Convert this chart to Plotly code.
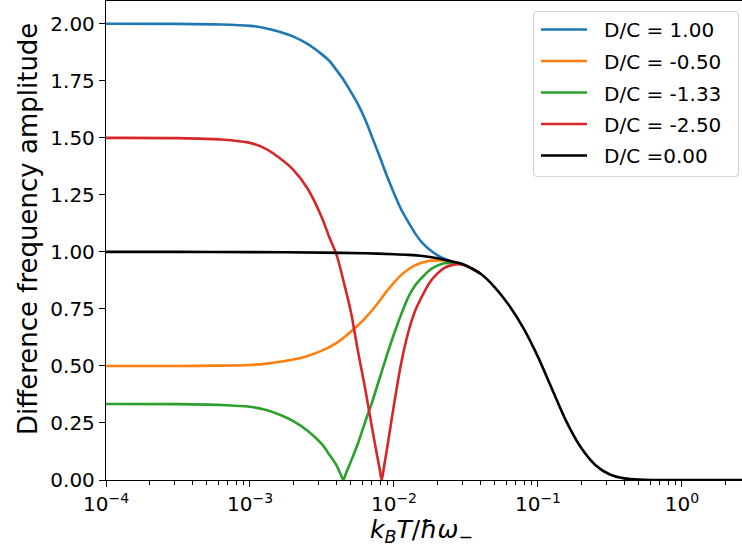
import plotly.graph_objects as go

# ---- data ----
T_black = [1.0e-4, 3.16e-4, 1.0e-3, 3.16e-3, 6.31e-3, 1.0e-2, 1.26e-2, 1.58e-2, 2.0e-2,
           2.51e-2, 2.82e-2, 3.16e-2, 3.98e-2, 5.01e-2, 6.31e-2, 7.94e-2, 0.1, 0.126,
           0.158, 0.2, 0.251, 0.316, 0.398, 0.501, 0.631, 1.0, 2.63]
A_black = [1.0, 1.0, 0.999, 0.997, 0.994, 0.99, 0.987, 0.982, 0.972,
           0.958, 0.951, 0.94, 0.905, 0.845, 0.765, 0.665, 0.54, 0.395,
           0.255, 0.14, 0.065, 0.024, 0.007, 0.0015, 0.0, 0.0, 0.0]

T_blue = [1.0e-4, 3.16e-4, 6.31e-4, 1.0e-3, 1.26e-3, 1.58e-3, 2.0e-3, 2.51e-3, 3.16e-3,
          3.55e-3, 3.98e-3, 4.47e-3, 5.01e-3, 5.62e-3, 6.31e-3, 7.08e-3, 7.94e-3,
          8.91e-3, 1.0e-2, 1.12e-2, 1.26e-2, 1.41e-2, 1.58e-2, 1.78e-2, 2.0e-2,
          2.24e-2, 2.51e-2, 2.82e-2, 3.16e-2, 3.98e-2]
A_blue = [2.0, 1.9995, 1.997, 1.991, 1.982, 1.966, 1.944, 1.912, 1.866,
          1.838, 1.798, 1.754, 1.703, 1.648, 1.58, 1.50, 1.419,
          1.335, 1.257, 1.187, 1.13, 1.079, 1.038, 1.008, 0.986,
          0.970, 0.959, 0.951, 0.94, 0.905]

T_orange = [1.0e-4, 3.16e-4, 6.31e-4, 1.0e-3, 1.26e-3, 1.58e-3, 2.0e-3, 2.51e-3, 3.16e-3,
            3.98e-3, 5.01e-3, 6.31e-3, 7.94e-3, 8.91e-3, 1.0e-2, 1.12e-2, 1.26e-2,
            1.41e-2, 1.58e-2, 1.78e-2, 2.0e-2, 2.24e-2, 2.51e-2, 2.82e-2, 3.16e-2, 3.98e-2]
A_orange = [0.5, 0.5, 0.5015, 0.5045, 0.509, 0.517, 0.528, 0.544, 0.567,
            0.60, 0.65, 0.71, 0.785, 0.828, 0.865, 0.898, 0.924,
            0.942, 0.954, 0.961, 0.963, 0.962, 0.957, 0.951, 0.94, 0.905]

T_green = [1.0e-4, 3.16e-4, 6.31e-4, 1.0e-3, 1.26e-3, 1.58e-3, 2.0e-3, 2.51e-3, 3.16e-3,
           3.55e-3, 3.98e-3, 4.27e-3, 4.45e-3, 4.62e-3, 5.01e-3, 5.62e-3, 6.31e-3,
           7.08e-3, 7.94e-3, 8.91e-3, 1.0e-2, 1.12e-2, 1.26e-2, 1.41e-2, 1.58e-2,
           1.78e-2, 2.0e-2, 2.24e-2, 2.51e-2, 2.82e-2, 3.16e-2, 3.98e-2]
A_green = [0.333, 0.3327, 0.329, 0.321, 0.309, 0.288, 0.258, 0.216, 0.157,
           0.112, 0.065, 0.024, 0.0, 0.026, 0.08, 0.16, 0.255,
           0.345, 0.445, 0.545, 0.64, 0.725, 0.803, 0.855, 0.89,
           0.922, 0.94, 0.95, 0.953, 0.95, 0.94, 0.905]

T_red = [1.0e-4, 3.16e-4, 6.31e-4, 1.0e-3, 1.26e-3, 1.58e-3, 2.0e-3, 2.51e-3, 3.16e-3,
         3.55e-3, 3.98e-3, 4.47e-3, 5.01e-3, 5.62e-3, 6.31e-3, 7.08e-3, 7.94e-3,
         8.22e-3, 8.51e-3, 8.91e-3, 1.0e-2, 1.12e-2, 1.26e-2, 1.41e-2, 1.58e-2,
         1.78e-2, 2.0e-2, 2.24e-2, 2.51e-2, 2.82e-2, 3.16e-2, 3.98e-2]
A_red = [1.5, 1.499, 1.493, 1.478, 1.455, 1.415, 1.36, 1.278, 1.15,
         1.065, 0.99, 0.87, 0.74, 0.565, 0.40, 0.22, 0.05,
         0.0, 0.055, 0.13, 0.33, 0.51, 0.65, 0.745, 0.81,
         0.868, 0.905, 0.93, 0.942, 0.946, 0.94, 0.905]

labels = ["D/C = 1.00", "D/C = -0.50", "D/C = -1.33", "D/C = -2.50", "D/C =0.00"]
colors = ["#1f77b4", "#ff7f0e", "#2ca02c", "#d62728", "#000000"]
xs_all = [T_blue, T_orange, T_green, T_red, T_black]
ys_all = [A_blue, A_orange, A_green, A_red, A_black]

x_tickvals = [1e-4, 1e-3, 1e-2, 1e-1, 1e0]
x_ticktext = ["10<sup>−4</sup>", "10<sup>−3</sup>", "10<sup>−2</sup>",
              "10<sup>−1</sup>", "10<sup>0</sup>"]
y_tickvals = [0, 0.25, 0.5, 0.75, 1.0, 1.25, 1.5, 1.75, 2.0]
x_title = "<i>k</i><sub><i>B</i></sub><i>T</i>/<i>ħω</i><sub>−</sub>"
y_title = "Difference frequency amplitude"

FONT = "DejaVu Sans"
W, H = 742, 549
ML, MR, MT, MB = 106, 0, 1, 69
PW, PH = W - ML - MR, H - MT - MB


def px2x(px):
    return (px - ML) / PW


def py2y(py):
    return (H - MB - py) / PH


fig = go.Figure()
for name, xs, ys, col in zip(labels, xs_all, ys_all, colors):
    fig.add_trace(go.Scatter(x=xs, y=ys, mode="lines", name=name,
                             line=dict(color=col, width=2.6, shape="spline",
                                       smoothing=0.8)))

# legend drawn by hand (matplotlib look)
L, R, T, B, rad = 533.5, 738.5, 11.5, 176.5, 4
path = (f"M {px2x(L + rad)},{py2y(T)} L {px2x(R - rad)},{py2y(T)} "
        f"Q {px2x(R)},{py2y(T)} {px2x(R)},{py2y(T + rad)} "
        f"L {px2x(R)},{py2y(B - rad)} Q {px2x(R)},{py2y(B)} {px2x(R - rad)},{py2y(B)} "
        f"L {px2x(L + rad)},{py2y(B)} Q {px2x(L)},{py2y(B)} {px2x(L)},{py2y(B - rad)} "
        f"L {px2x(L)},{py2y(T + rad)} Q {px2x(L)},{py2y(T)} {px2x(L + rad)},{py2y(T)} Z")
shapes = [dict(type="path", path=path, xref="paper", yref="paper",
               fillcolor="rgba(255,255,255,0.85)", line=dict(color="#d5d5d5", width=1.2),
               layer="above")]
annotations = []
row_y = [29.5, 61, 92.5, 124, 155.5]
for name, col, ry in zip(labels, colors, row_y):
    shapes.append(dict(type="line", xref="paper", yref="paper",
                       x0=px2x(541), x1=px2x(587), y0=py2y(ry), y1=py2y(ry),
                       line=dict(color=col, width=2.6), layer="above"))
    annotations.append(dict(text=name, xref="paper", yref="paper",
                            x=px2x(602), y=py2y(ry + 1), xanchor="left", yanchor="middle",
                            showarrow=False, font=dict(family=FONT, size=20, color="black")))

# axis titles
annotations.append(dict(text=x_title, xref="paper", yref="paper",
                        x=px2x(421), y=py2y(531), xanchor="center", yanchor="middle",
                        showarrow=False, font=dict(family=FONT, size=25, color="black")))
annotations.append(dict(text=y_title, xref="paper", yref="paper", textangle=-90,
                        x=px2x(28), y=py2y(229), xanchor="center", yanchor="middle",
                        showarrow=False, font=dict(family=FONT, size=26, color="black")))

fig.update_layout(
    width=W, height=H,
    margin=dict(l=ML, r=MR, t=MT, b=MB),
    paper_bgcolor="white", plot_bgcolor="white",
    font=dict(family=FONT, size=20, color="black"),
    showlegend=False,
    shapes=shapes, annotations=annotations,
    xaxis=dict(type="log", range=[-4, 0.417], automargin=False,
               tickvals=x_tickvals, ticktext=x_ticktext,
               ticks="outside", ticklen=6, tickwidth=1.2, tickcolor="black",
               showline=True, linecolor="black", linewidth=1.3, mirror=True,
               showgrid=False, zeroline=False,
               minor=dict(ticks="outside", ticklen=3.5, tickwidth=1, tickcolor="black",
                          dtick="D1", showgrid=False)),
    yaxis=dict(range=[0, 2.1], tickvals=y_tickvals, tickformat=".2f", automargin=False,
               ticks="outside", ticklen=6, tickwidth=1.2, tickcolor="black",
               showline=True, linecolor="black", linewidth=1.3, mirror=True,
               showgrid=False, zeroline=False),
)

fig.write_html("out.html", config={"displayModeBar": False},
               post_script="document.body.style.margin='0';document.body.style.padding='0';")
